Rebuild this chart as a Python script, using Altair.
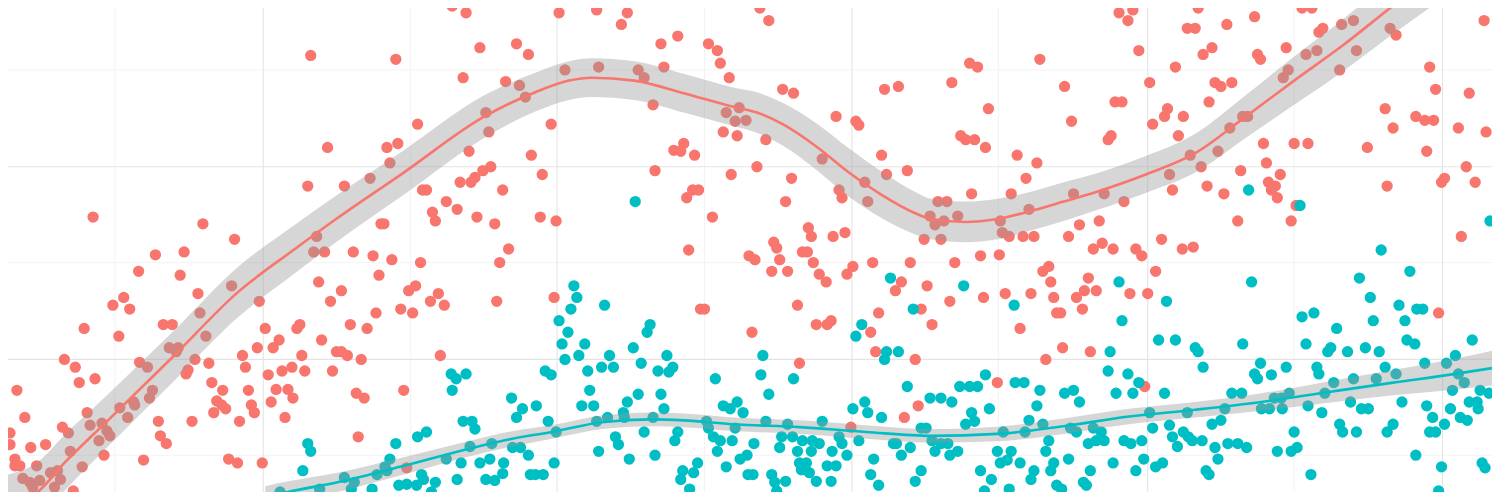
import altair as alt
import pandas as pd

# ---- values (x: 0..1500 left->right, y: 0..500 top->bottom) ----
RED_PTS = [
    (449,-2),(463,5),(306,49),(392,53),(477,41),(460,72),(503,76),(483,108),(486,128),(414,120),
    (323,144),(383,144),(394,140),(386,160),(466,148),(366,176),(303,184),(340,184),(419,188),(423,188),
    (457,180),(468,180),(472,175),(480,168),(488,164),(500,188),(443,200),(429,211),(432,220),(454,208),
    (474,216),(492,223),(377,223),(380,223),(312,236),(86,216),(197,223),(229,239),
    (309,252),(320,252),(349,252),(149,255),(178,252),(132,272),(174,276),(226,287),(192,295),(194,315),
    (200,339),(117,299),(106,307),(123,311),(77,331),(112,339),(157,327),(166,327),(163,351),(172,351),
    (170,355),(57,363),(68,371),(88,383),(72,387),(9,395),(133,366),(141,371),(189,363),(182,374),
    (180,378),(146,395),(143,403),(127,407),(128,410),(113,413),(121,423),(80,418),(83,431),(95,429),
    (100,437),(103,442),(92,447),(97,462),(17,423),(55,433),(61,439),(38,451),(23,454),(2,439),
    (2,451),(63,458),(152,427),(154,442),(160,450),(137,467),(186,427),(75,474),(7,466),(12,473),
    (7,473),(29,473),(15,486),(22,490),(32,488),(25,495),(43,480),(50,478),(47,495),(53,487),(66,499),
    (254,303),(260,331),(274,343),(268,351),(252,351),(237,359),(240,371),(203,367),(206,387),(217,395),
    (211,406),(216,410),(220,414),(208,418),(234,427),(243,395),(246,410),(249,418),(263,379),(266,407),
    (271,394),(277,375),(287,371),(283,394),(288,403),(280,423),(223,466),(232,470),(257,470),(292,331),
    (295,327),(297,359),(300,375),(314,283),(326,303),(337,292),(317,343),(332,355),(337,355),(343,359),
    (328,375),(357,363),(346,327),(363,331),(372,315),(375,276),(369,256),(388,260),(417,263),(405,292),
    (412,287),(397,311),(409,315),(427,303),(435,295),(441,307),(437,359),(400,395),(352,398),(360,403),
    (354,443),(497,263),(494,303),(403,475),
    (557,5),(595,2),(626,5),(620,17),(760,0),(769,13),(514,37),(526,48),(660,37),(677,29),
    (708,37),(717,44),(720,57),(729,72),(563,64),(597,61),(637,64),(643,72),(663,61),(517,80),
    (523,92),(652,100),(549,120),(726,108),(739,103),(735,117),(746,116),(723,128),(737,132),(766,136),
    (783,84),(794,88),(837,112),(857,117),(860,121),(886,84),(900,81),(972,57),(980,61),(954,77),
    (991,104),(963,132),(968,136),(977,136),(988,144),(883,152),(823,156),(888,172),(909,168),(529,152),
    (540,172),(673,147),(683,140),(680,148),(694,152),(654,168),(731,172),(757,164),(792,176),(686,196),
    (692,188),(698,188),(538,216),(554,220),(712,216),(786,200),(840,188),(843,196),(866,180),(869,200),
    (809,227),(812,236),(834,236),(846,232),(774,242),(777,248),(932,215),(940,200),(949,200),(937,224),
    (946,220),(960,215),(926,239),(943,239),(974,192),(506,249),
    (688,250),(749,256),(755,260),(772,272),(788,272),(780,260),(803,252),(808,252),(814,263),(820,275),
    (827,283),(848,275),(854,267),(874,263),(912,263),(957,263),(983,256),(903,283),(897,292),(929,287),
    (952,303),(986,299),(923,311),(880,315),(872,335),(934,327),(798,307),(817,327),(828,327),(832,323),
    (752,335),(700,311),(704,311),(552,299),(800,367),(877,355),(917,363),(920,411),(906,423),(852,433),
    (1123,5),(1132,13),(1137,2),(1043,53),(1143,44),(1192,21),(1200,21),(1203,0),(1232,17),(1260,9),
    (1308,0),(1318,0),(1180,61),(1208,48),(1217,41),(1263,48),(1266,53),(1292,41),(1312,48),(1323,44),
    (1325,25),(1329,21),(1348,17),(1360,13),(1397,21),(1403,28),(1363,44),(1346,64),(1294,64),(1289,72),
    (1492,13),(1437,61),(1443,84),(1477,88),(1423,112),(1432,116),(1441,116),(1392,104),(1400,124),(1466,124),
    (1494,128),(1434,148),(1374,144),(1474,164),(1452,176),(1449,180),(1483,180),(1394,184),(1469,236),(1068,81),
    (1075,117),(1119,97),(1126,97),(1112,136),(1115,132),(1154,77),(1157,120),(1169,112),(1172,104),(1188,112),
    (1220,77),(1226,81),(1237,77),(1214,97),(1183,132),(1235,124),(1248,112),(1253,112),(1195,152),(1223,148),
    (1206,164),(1174,172),(1177,188),(1212,184),(1229,192),(1246,168),(1269,140),(1300,140),(1314,140),(1272,160),
    (1286,172),(1274,180),(1281,184),(1277,188),(1283,196),(1243,220),(1297,220),(1302,204),(1020,152),(1040,160),
    (1029,176),(1014,192),(1077,192),(1108,192),(1128,200),(1032,208),(1003,220),(1005,232),(1012,236),(1026,236),
    (1037,236),(1072,236),(1083,224),(1103,220),(1106,243),(1097,249),(1117,249),(1140,249),(1166,239),(1187,249),
    (1198,247),
    (1002,255),(1146,256),(1160,272),(1046,272),(1052,267),(1054,283),(1092,279),(1088,292),(1100,292),(1008,295),
    (1034,295),(1057,299),(1080,299),(1134,295),(1152,295),(1060,315),(1064,315),(1086,311),(1023,331),(1066,351),
    (1094,355),(1049,363),(1000,387),(1149,391),(1446,315),
]

TEAL_PTS = [
    (634,200),
    (448,378),(463,378),(453,383),(449,395),(460,427),(469,427),(472,435),(414,443),(423,438),(392,450),
    (386,466),(303,450),(306,458),(298,478),(275,500),(315,497),(340,485),(350,490),(347,497),(368,497),
    (373,482),(383,478),(381,474),(395,493),(403,492),(413,493),(420,487),(418,482),(432,490),(443,466),
    (458,470),(467,453),(477,470),(487,466),(489,450),(501,470),(454,487),(483,487),(492,488),(500,481),
    (428,500),
    (572,287),(575,299),(569,311),(603,307),(557,323),(566,335),(560,347),(563,363),(583,347),(577,359),
    (586,375),(600,371),(612,371),(608,359),(632,351),(640,367),(649,327),(646,335),(666,359),(672,371),
    (657,375),(668,376),(543,375),(549,379),(588,395),(580,411),(592,411),(626,407),(637,399),(660,399),
    (663,414),(509,403),(520,414),(514,423),(534,411),(546,427),(554,438),(595,427),(606,423),(622,418),
    (623,423),(614,443),(617,451),(652,423),(643,438),(597,458),(628,466),(654,462),(677,438),(674,447),
    (510,454),(518,454),(526,462),(552,470),(528,482),(533,482),(541,482),(697,470),(693,480),(682,478),
    (680,487),(689,497),(715,383),(723,411),(730,414),(737,407),(743,418),(706,427),(708,434),(713,443),
    (720,447),(732,447),(735,434),(717,458),(754,450),(740,466),(747,462),(726,474),(748,482),(753,482),
    (763,359),(761,379),(769,399),(766,427),(788,430),(782,443),(793,443),(780,454),(803,447),(798,458),
    (813,447),(820,450),(812,458),(794,383),(823,427),(840,443),(843,450),(833,458),(848,462),(800,470),
    (807,470),(810,480),(802,477),(828,473),(837,473),(832,489),(817,489),(772,482),(775,490),(786,489),
    (777,499),(854,414),(866,407),(869,418),(860,447),(883,423),(857,339),(863,327),(892,279),(915,311),
    (886,363),(888,355),(900,355),(909,391),(966,287),(988,379),(962,391),(972,391),(980,391),(932,403),
    (943,403),(954,407),(992,414),(974,418),(968,430),(977,427),(923,434),(928,434),(895,450),(898,450),
    (912,454),(903,462),(934,447),(943,450),(950,450),(937,458),(952,462),(960,458),(875,466),(872,482),
    (880,493),(923,478),(917,489),(983,478),(994,487),(987,499),
    (1254,188),(1306,204),(1498,220),(1388,250),
    (1017,307),(1123,283),(1126,323),(1171,303),(1417,272),(1257,283),(1366,279),(1377,299),(1406,307),(1424,311),
    (1430,311),(1380,323),(1412,323),(1308,319),(1320,315),(1343,331),(1163,343),(1180,343),(1200,351),(1203,355),
    (1248,347),(1208,371),(1312,347),(1334,355),(1337,351),(1354,355),(1372,351),(1386,355),(1414,343),(1422,347),
    (1480,343),(1432,367),(1454,367),(1463,359),(1114,355),(1112,375),(1132,378),(1143,387),(1137,398),(1120,398),
    (1018,387),(1027,387),(1043,395),(1068,398),(1077,395),(1083,407),(1040,411),(1032,426),(1046,430),(1006,438),
    (1028,438),(1074,434),(1080,438),(1097,434),(1105,438),(1052,447),(1092,450),(1100,447),(1108,447),(1128,447),
    (1135,450),(1146,447),(1049,458),(1014,458),(1000,458),(1003,470),(1010,467),(1023,470),(1057,470),(1054,478),
    (1072,466),(1117,470),(1148,466),(1037,478),(1034,487),(1094,478),(1140,478),(1160,474),(1167,470),(1060,493),
    (1065,497),(1087,490),(1090,493),(1012,497),(1154,418),(1157,434),(1169,398),(1174,431),(1177,443),(1188,438),
    (1193,443),(1182,453),(1197,447),(1207,447),(1192,418),(1220,454),(1223,466),(1217,430),(1226,426),(1230,414),
    (1233,450),(1243,450),(1252,454),(1211,478),(1214,482),(1237,398),(1247,398),(1260,378),(1263,383),(1266,367),
    (1277,379),(1292,371),(1267,414),(1275,414),(1280,403),(1287,403),(1295,398),(1288,414),(1283,458),(1300,438),
    (1297,458),(1303,454),(1317,482),(1314,411),(1323,371),(1325,378),(1328,418),(1331,398),(1340,387),(1357,407),
    (1360,383),(1368,414),(1375,414),(1383,383),(1392,371),(1403,378),(1409,407),(1346,430),(1349,438),(1363,438),
    (1394,438),(1400,430),(1434,411),(1440,423),(1437,438),(1443,438),(1452,430),(1423,462),(1449,474),(1446,499),
    (1458,414),(1460,395),(1466,378),(1472,387),(1468,423),(1475,426),(1477,407),(1485,407),(1486,414),(1488,395),
    (1497,398),(1490,470),(1493,475),
]

# smoothing curves (fit line and vertical half-width of its confidence band)
RED_X = [0, 30, 57, 100, 167, 233, 290, 333, 400, 480, 533, 567, 590, 633, 683, 733, 757, 783, 817,
         850, 883, 917, 933, 967, 1000, 1033, 1067, 1100, 1150, 1200, 1250, 1300, 1350, 1397, 1450, 1500]
RED_Y = [515, 500, 470, 427, 360, 293, 249, 217, 170, 113, 87, 75, 72, 75, 88, 102, 108, 120, 143,
         170, 193, 212, 218, 221, 218, 210, 200, 190, 172, 150, 113, 75, 38, 0, -42, -85]
RED_SE = [33, 31, 29, 27, 26, 26, 25, 24, 23, 22, 20, 20, 20, 20, 20, 20, 21, 22, 24,
          25, 24, 22, 21, 21, 21, 20, 20, 19, 19, 20, 22, 25, 27, 29, 32, 35]

TEAL_X = [260, 283, 333, 400, 467, 500, 555, 600, 650, 683, 733, 800, 867, 933, 1000, 1067,
          1133, 1200, 1267, 1333, 1400, 1463, 1500]
TEAL_Y = [506, 500, 490, 473, 455, 447, 437, 428, 425, 426, 430, 433, 438, 442, 440, 432,
          422, 415, 407, 397, 387, 378, 372]
TEAL_SE = [12, 11, 10, 9, 8, 8, 7, 7, 7, 7, 7, 7, 7, 7, 7.5, 8, 8, 8, 9, 11, 13, 16, 18]

GRID_MAJOR_X = [258, 555, 853, 1152, 1450]
GRID_MINOR_X = [108, 407, 704, 1001, 1300]
GRID_MAJOR_Y = [164, 363]
GRID_MINOR_Y = [64, 263, 462]

RED = "#F8766D"
TEAL = "#00BFC4"

# ---- tables ----
pts = pd.DataFrame(
    [{"x": x, "y": y, "g": "a"} for x, y in RED_PTS] +
    [{"x": x, "y": y, "g": "b"} for x, y in TEAL_PTS]
)
red_fit = pd.DataFrame({"x": RED_X, "y": RED_Y, "se": RED_SE})
red_fit["lo"] = red_fit["y"] - red_fit["se"]
red_fit["hi"] = red_fit["y"] + red_fit["se"]
teal_fit = pd.DataFrame({"x": TEAL_X, "y": TEAL_Y, "se": TEAL_SE})
teal_fit["lo"] = teal_fit["y"] - teal_fit["se"]
teal_fit["hi"] = teal_fit["y"] + teal_fit["se"]

XS = alt.Scale(domain=[0, 1500], nice=False, zero=False)
YS = alt.Scale(domain=[0, 500], nice=False, zero=False, reverse=True)

def xq(f):
    return alt.X(f, type="quantitative", scale=XS, axis=None)

def yq(f):
    return alt.Y(f, type="quantitative", scale=YS, axis=None)

gminx = alt.Chart(pd.DataFrame({"v": GRID_MINOR_X})).mark_rule(color="#F3F3F3", strokeWidth=1).encode(x=xq("v"))
gminy = alt.Chart(pd.DataFrame({"v": GRID_MINOR_Y})).mark_rule(color="#F3F3F3", strokeWidth=1).encode(y=yq("v"))
gmajx = alt.Chart(pd.DataFrame({"v": GRID_MAJOR_X})).mark_rule(color="#E4E4E4", strokeWidth=1.1).encode(x=xq("v"))
gmajy = alt.Chart(pd.DataFrame({"v": GRID_MAJOR_Y})).mark_rule(color="#E4E4E4", strokeWidth=1.1).encode(y=yq("v"))

points = alt.Chart(pts).mark_circle(size=128, opacity=1, clip=True).encode(
    x=xq("x"), y=yq("y"),
    color=alt.Color("g:N", scale=alt.Scale(domain=["a", "b"], range=[RED, TEAL]), legend=None),
)

def band(df):
    return alt.Chart(df).mark_area(color="#999999", opacity=0.4, clip=True,
                                   interpolate="monotone").encode(
        x=xq("x"), y=yq("lo"), y2=alt.Y2("hi"))

def line(df, c):
    return alt.Chart(df).mark_line(color=c, strokeWidth=2.6, clip=True,
                                   interpolate="monotone").encode(x=xq("x"), y=yq("y"))

chart = alt.layer(
    gminx, gminy, gmajx, gmajy, points,
    band(red_fit), line(red_fit, RED),
    band(teal_fit), line(teal_fit, TEAL),
).properties(
    width=1484, height=484, padding=0,
    autosize=alt.AutoSizeParams(type="none"),
    background="white",
).configure_view(stroke=None)

chart.save("out.html", embed_options={"renderer": "svg", "actions": False})
